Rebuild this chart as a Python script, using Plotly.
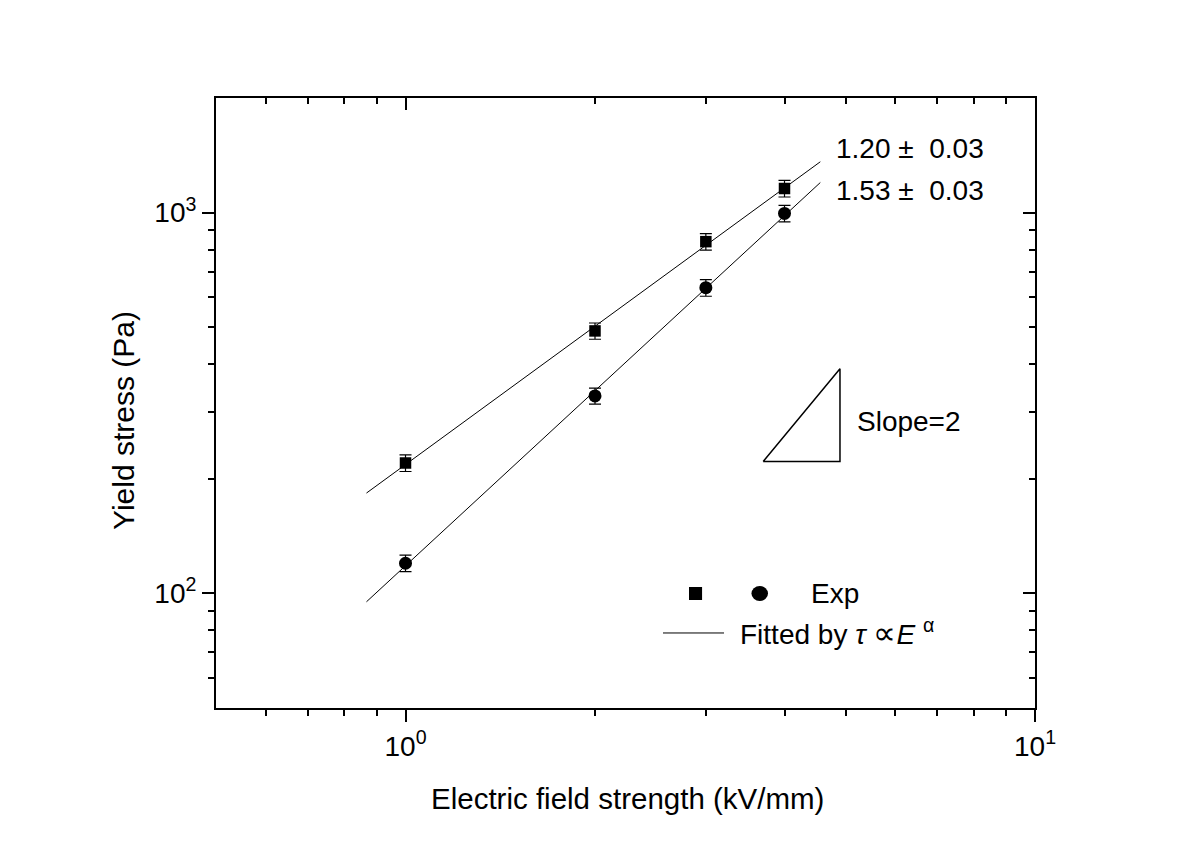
import numpy as np
import plotly.graph_objects as go

# ---------------- data ----------------
field = [1, 2, 3, 4]                      # kV/mm
stress_sq = [220, 489, 839, 1157]         # Pa (squares)
err_sq = [11, 24, 42, 58]
stress_ci = [120, 330, 635, 995]          # Pa (circles)
err_ci = [6, 16, 32, 50]
fit_range = [0.867, 4.56]                 # extent of fitted lines
fit_labels = ["1.20 ±  0.03", "1.53 ±  0.03"]
slope_tri_x = [3.70, 4.90, 4.90, 3.70]
slope_tri_y = [222, 222, 389, 222]

x_major = [1, 10]
x_major_text = ["10<sup>0</sup>", "10<sup>1</sup>"]
x_minor = [0.6, 0.7, 0.8, 0.9, 2, 3, 4, 5, 6, 7, 8, 9]
y_major = [100, 1000]
y_major_text = ["10<sup>2</sup>", "10<sup>3</sup>"]
y_minor = [60, 70, 80, 90, 200, 300, 400, 500, 600, 700, 800, 900]

FONT = "Liberation Sans, Arial, sans-serif"

fig = go.Figure()

def fitline(xs, ys):
    p = np.polyfit(np.log10(xs), np.log10(ys), 1)
    xf = np.array(fit_range)
    return xf, 10 ** np.polyval(p, np.log10(xf))

for ys in (stress_sq, stress_ci):
    xf, yf = fitline(field, ys)
    fig.add_trace(go.Scatter(x=xf, y=yf, mode="lines",
                             line=dict(color="black", width=1), showlegend=False))

fig.add_trace(go.Scatter(x=field, y=stress_sq, mode="markers",
                         marker=dict(symbol="square", size=11.5, color="black"),
                         error_y=dict(type="data", array=err_sq, color="black",
                                      thickness=1.2, width=6),
                         showlegend=False))
fig.add_trace(go.Scatter(x=field, y=stress_ci, mode="markers",
                         marker=dict(symbol="circle", size=13, color="black"),
                         error_y=dict(type="data", array=err_ci, color="black",
                                      thickness=1.2, width=6),
                         showlegend=False))

fig.add_trace(go.Scatter(x=slope_tri_x, y=slope_tri_y, mode="lines",
                         line=dict(color="black", width=1.5), showlegend=False))

# invisible trace for the mirrored axes
fig.add_trace(go.Scatter(x=[1], y=[100], xaxis="x2", yaxis="y2", mode="markers",
                         marker=dict(opacity=0), showlegend=False, hoverinfo="skip"))

xr = [np.log10(0.5), 1]
yr = [np.log10(50), np.log10(2000)]
common = dict(type="log", showgrid=False, zeroline=False, linecolor="black",
              tickcolor="black", tickwidth=2, ticklen=12)

fig.update_layout(
    width=1200, height=848,
    margin=dict(l=208, r=173, t=90, b=148),
    paper_bgcolor="white", plot_bgcolor="white",
    font=dict(family=FONT, size=28, color="black"),
    showlegend=False,
    xaxis=dict(**common, range=xr, showline=True, linewidth=2, mirror=True,
               ticks="outside", tickmode="array", tickvals=x_major, ticktext=x_major_text,
               minor=dict(tickmode="array", tickvals=x_minor, ticks="outside",
                          ticklen=6, tickwidth=2, tickcolor="black"),
               tickfont=dict(size=28)),
    yaxis=dict(**common, range=yr, showline=True, linewidth=2, mirror=True,
               ticks="outside", tickmode="array", tickvals=y_major, ticktext=y_major_text,
               minor=dict(tickmode="array", tickvals=y_minor, ticks="outside",
                          ticklen=6, tickwidth=2, tickcolor="black"),
               tickfont=dict(size=28)),
    xaxis2=dict(**common, range=xr, overlaying="x", side="top", anchor="y",
                showline=False, ticks="inside", tickmode="array", tickvals=x_major,
                showticklabels=False,
                minor=dict(tickmode="array", tickvals=x_minor, ticks="inside",
                           ticklen=6, tickwidth=2, tickcolor="black")),
    yaxis2=dict(**common, range=yr, overlaying="y", side="right", anchor="x",
                showline=False, ticks="inside", tickmode="array", tickvals=y_major,
                showticklabels=False,
                minor=dict(tickmode="array", tickvals=y_minor, ticks="inside",
                           ticklen=6, tickwidth=2, tickcolor="black")),
)

ann = [
    dict(text="Electric field strength (kV/mm)", x=0.503, y=-0.149, xanchor="center",
         yanchor="middle", font=dict(size=29.5)),
    dict(text="Yield stress (Pa)", x=-0.1123, y=0.4705, textangle=-90,
         xanchor="center", yanchor="middle", font=dict(size=30)),
    dict(text=fit_labels[0], x=0.7546, y=0.9164, xanchor="left", yanchor="middle",
         font=dict(size=28)),
    dict(text=fit_labels[1], x=0.7546, y=0.849, xanchor="left", yanchor="middle",
         font=dict(size=28)),
    dict(text="Slope=2", x=0.7802, y=0.4689, xanchor="left", yanchor="middle",
         font=dict(size=28)),
    dict(text="Exp", x=0.724, y=0.1885, xanchor="left", yanchor="middle",
         font=dict(size=28)),
    dict(text="Fitted by <i>τ</i> <span style='font-size:32px'>∝</span><i>E</i> <sup>α</sup>",
         x=0.6374, y=0.123, xanchor="left", yanchor="middle", font=dict(size=28)),
]
for a in ann:
    a.update(xref="paper", yref="paper", showarrow=False)
    fig.add_annotation(**a)

fig.add_shape(type="rect", xref="paper", yref="paper", x0=0.5775, x1=0.5935,
              y0=0.1770, y1=0.1984, fillcolor="black", line=dict(width=0))
fig.add_shape(type="circle", xref="paper", yref="paper", x0=0.6538, x1=0.674,
              y0=0.1754, y1=0.2, fillcolor="black", line=dict(width=0))
fig.add_shape(type="line", xref="paper", yref="paper", x0=0.5458, x1=0.6203,
              y0=0.123, y1=0.123, line=dict(color="black", width=1))

fig.write_html("out.html")
